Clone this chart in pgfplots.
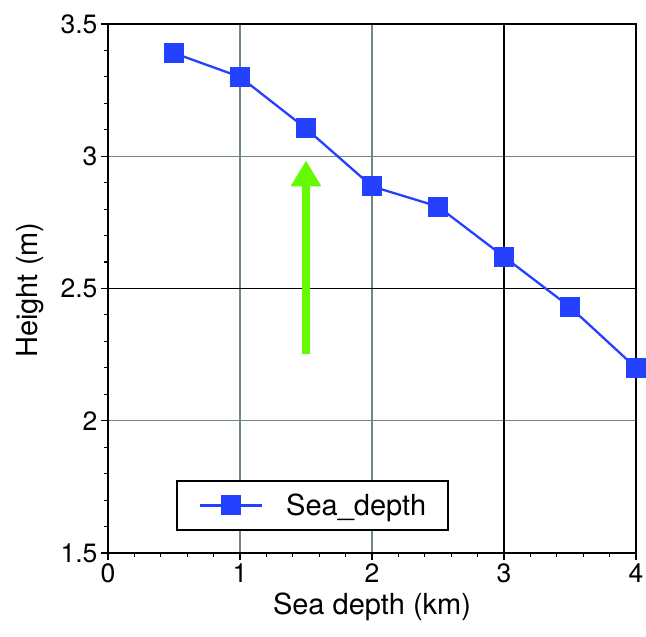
\documentclass[border=0pt]{standalone}
\usepackage{pgfplots}
\pgfplotsset{compat=1.18}
\usepackage{fontspec}
\setmainfont{TeX Gyre Heros}
\usetikzlibrary{arrows.meta}
\definecolor{gridc}{RGB}{110,135,135}
\definecolor{sblue}{RGB}{35,65,255}
\definecolor{agreen}{RGB}{100,250,0}
\begin{document}
\begin{tikzpicture}
\useasboundingbox (-108pt,-84pt) rectangle (538pt,553pt);
\begin{axis}[
  at={(0,0)}, anchor=south west,
  scale only axis, width=528pt, height=529pt,
  xmin=0, xmax=4, ymin=1.5, ymax=3.5,
  xtick={0,1,2,3,4}, ytick={1.5,2,2.5,3,3.5},
  yticklabels={1.5,2,2.5,3,3.5},
  minor x tick num=4, minor y tick num=4,
  tick align=outside, major tick length=7pt, minor tick length=4pt,
  tick style={black, line width=1.3pt},
  minor tick style={black, line width=1.1pt},
  xtick pos=bottom, ytick pos=left,
  grid=major, major grid style={gridc, line width=1.2pt},
  axis line style={black, line width=2pt},
  /pgf/number format/assume math mode=true,
  font=\fontsize{29}{34}\selectfont,
  ticklabel style={font=\fontsize{26.5}{30}\selectfont},
  xlabel={Sea depth (km)}, ylabel={Height (m)},
  xlabel style={at={(axis description cs:0.5,-0.102)}, anchor=center},
  ylabel style={at={(axis description cs:-0.148,0.497)}, anchor=center},
  legend style={at={(axis description cs:0.129,0.042)}, anchor=south west,
    draw=black, line width=1.6pt, inner xsep=22pt, inner ysep=13pt,
    nodes={inner sep=0pt},
    font=\fontsize{29}{34}\selectfont, cells={anchor=west}},
  legend image code/.code={
    \draw[#1, mark repeat=2, mark phase=2] plot coordinates {(0pt,0pt) (31pt,0pt) (62pt,0pt)};
  },
  clip=false,
]
\draw[black, line width=1.4pt] (axis cs:3,1.5) -- (axis cs:3,3.5);
\draw[black, line width=1.4pt] (axis cs:0,2.5) -- (axis cs:4,2.5);
\addplot[sblue, line width=2.3pt, mark=square*, mark size=9.5pt,
  mark options={fill=sblue, draw=sblue, line width=0pt}]
  coordinates {(0.5,3.39) (1,3.30) (1.5,3.105) (2,2.886) (2.5,2.81) (3,2.62) (3.5,2.43) (4,2.20)};
\addlegendentry{\hspace{23pt}Sea\_depth}
\draw[agreen, line width=8pt, -{Triangle[length=26pt, width=29pt]}]
  (axis cs:1.5,2.253) -- (axis cs:1.5,2.984);
\end{axis}
\end{tikzpicture}
\end{document}
